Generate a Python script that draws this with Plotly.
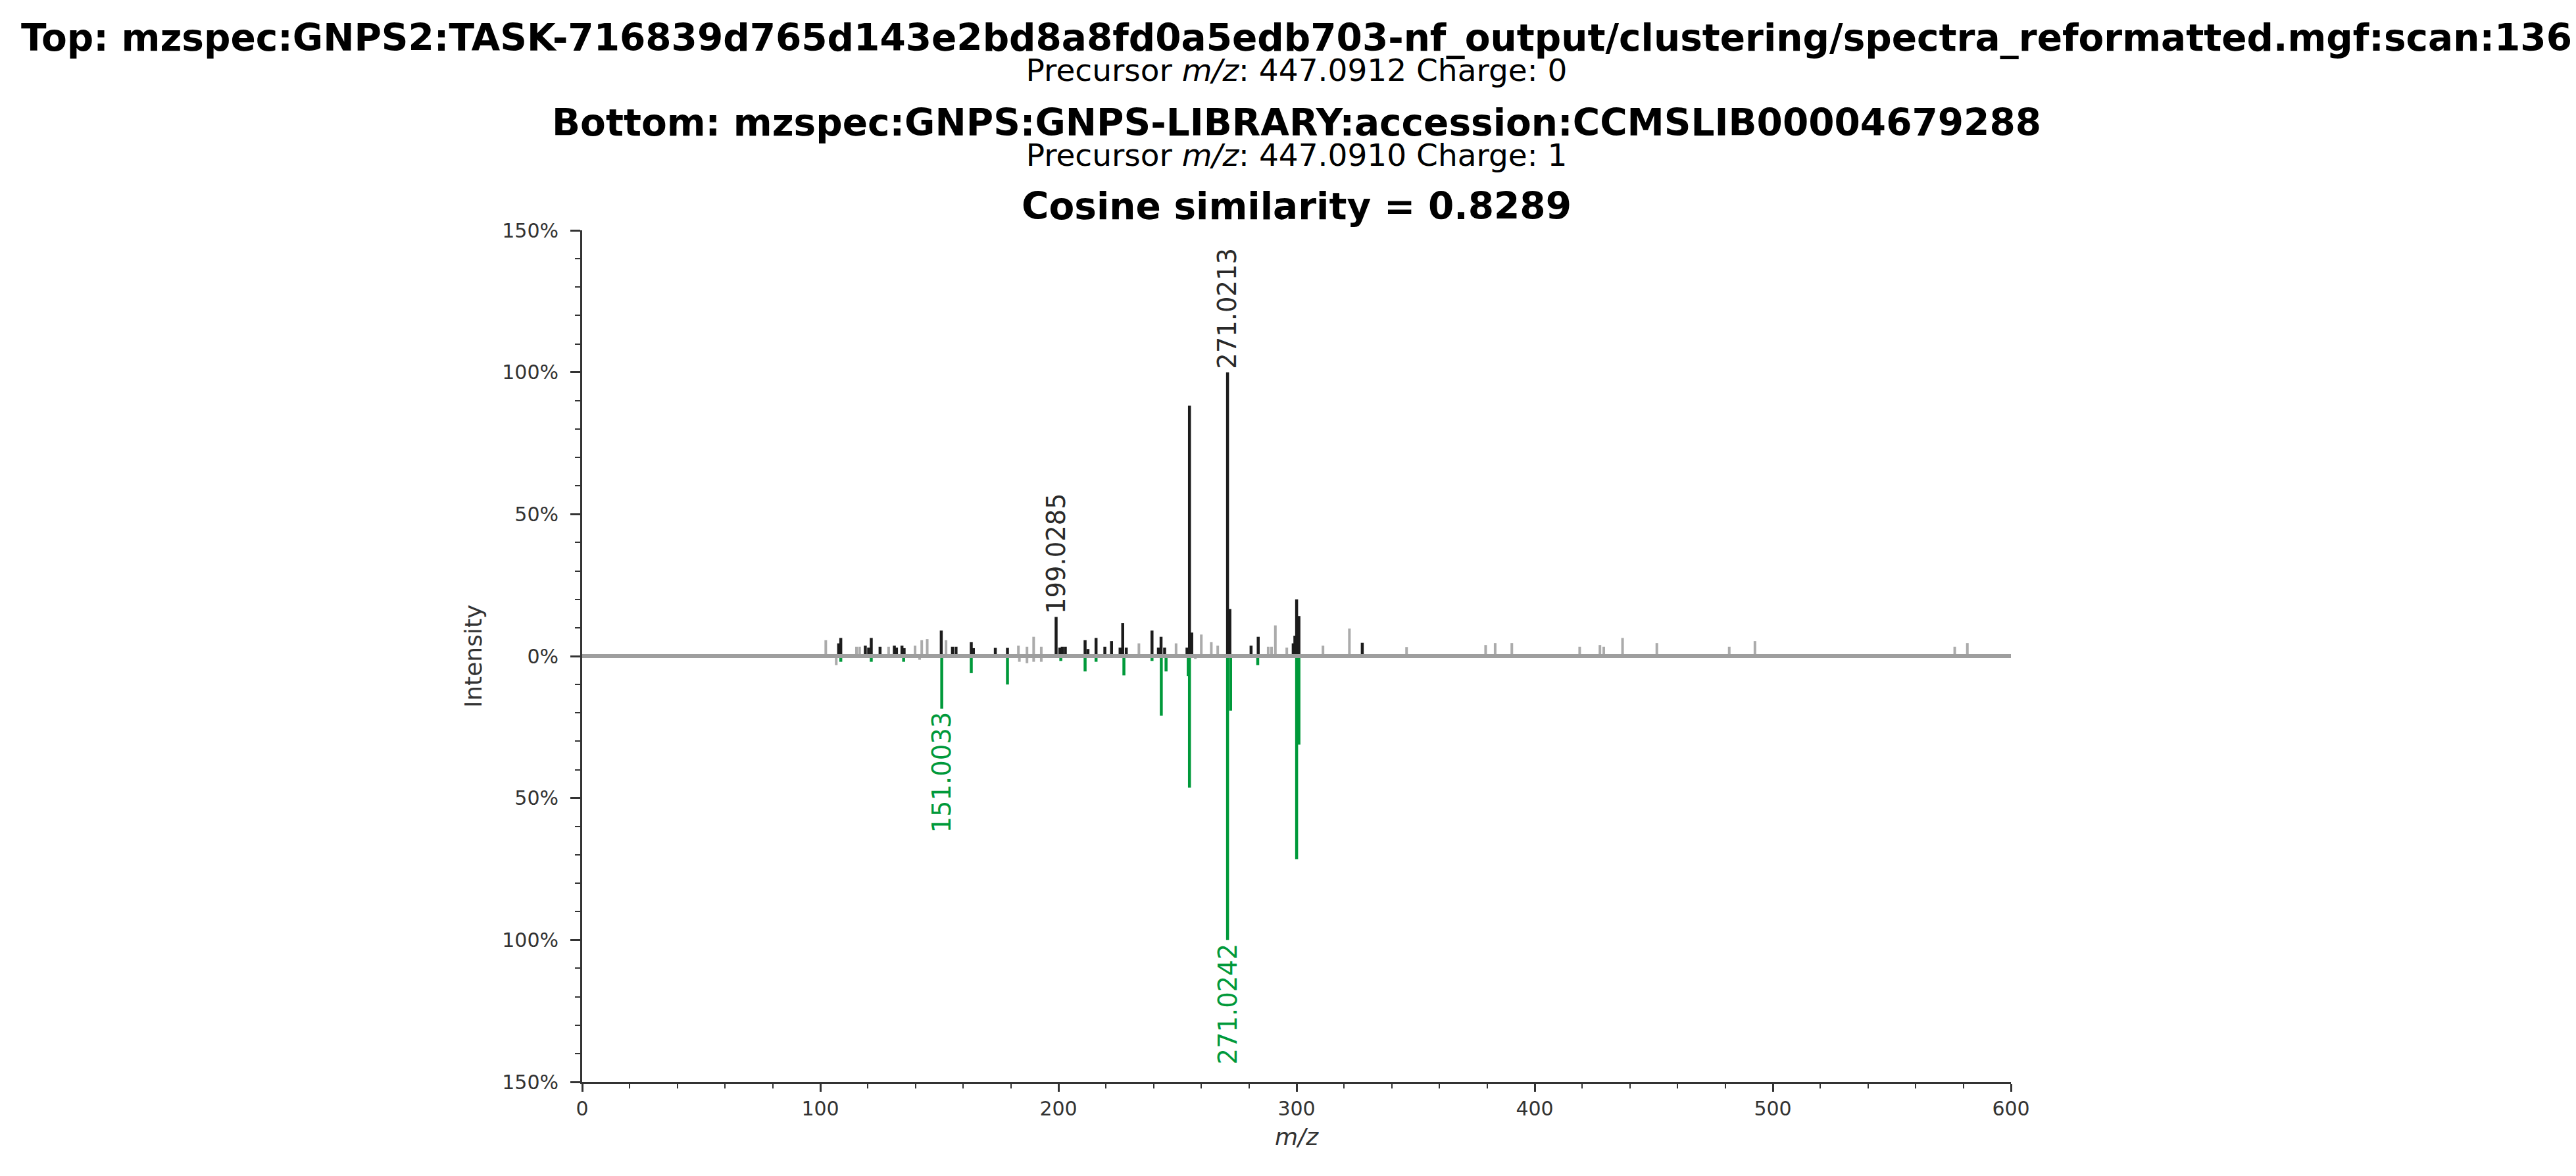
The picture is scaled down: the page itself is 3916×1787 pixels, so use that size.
import plotly.graph_objects as go

# ---------------- data ----------------
top_title = "Top: mzspec:GNPS2:TASK-716839d765d143e2bd8a8fd0a5edb703-nf_output/clustering/spectra_reformatted.mgf:scan:136"
top_sub = "Precursor <i>m/z</i>: 447.0912 Charge: 0"
bot_title = "Bottom: mzspec:GNPS:GNPS-LIBRARY:accession:CCMSLIB00004679288"
bot_sub = "Precursor <i>m/z</i>: 447.0910 Charge: 1"
cos_title = "Cosine similarity = 0.8289"

top_mz_matched = [107.7, 108.6, 118.9, 120.3, 121.4, 125.1, 131.1, 132.0, 134.3, 135.2,
                  150.8, 155.5, 157.0, 163.4, 164.3, 173.5, 178.6, 199.0285, 200.6, 201.6,
                  202.9, 211.2, 212.4, 215.8, 219.5, 222.3, 225.9, 227.0, 228.5, 239.3,
                  242.0, 243.1, 244.6, 254.0, 255.03, 256.0, 271.0213, 272.0, 280.9, 283.9,
                  298.6, 299.3, 300.03, 301.0, 327.6]
top_int_matched = [4.5, 6.4, 3.7, 3.0, 6.4, 3.3, 3.7, 3.0, 3.7, 2.8,
                   9.0, 3.3, 3.3, 4.9, 2.8, 2.9, 2.9, 13.8, 3.0, 3.3,
                   3.3, 5.6, 2.5, 6.4, 3.3, 5.3, 3.0, 11.6, 3.0, 9.0,
                   3.0, 6.8, 3.0, 3.0, 88.2, 8.3, 100.0, 16.6, 3.7, 6.8,
                   4.5, 7.2, 20.0, 14.1, 4.7]

top_mz_unmatched = [102.3, 115.2, 116.5, 128.7, 139.8, 142.6, 144.9, 152.8, 183.2, 186.8,
                    189.6, 192.8, 233.8, 249.4, 260.0, 264.2, 266.9, 288.1, 289.5, 291.1,
                    295.9, 311.1, 322.2, 346.2, 379.4, 383.4, 390.4, 418.9, 427.4, 429.0,
                    436.9, 451.3, 481.7, 492.5, 576.4, 581.7]
top_int_unmatched = [5.6, 3.3, 3.3, 3.3, 3.7, 5.6, 6.0, 5.6, 3.7, 3.3,
                     6.8, 3.3, 4.5, 4.5, 7.6, 4.9, 3.7, 3.3, 3.3, 10.8,
                     3.0, 3.7, 9.7, 3.2, 3.9, 4.6, 4.6, 3.3, 3.9, 3.3,
                     6.4, 4.6, 3.3, 5.3, 3.3, 4.6]

bot_mz_matched = [108.6, 121.4, 135.0, 151.0033, 163.4, 178.6, 201.0, 211.2, 215.8, 227.5,
                  239.3, 243.2, 245.2, 254.5, 255.03, 271.0242, 272.3, 283.7, 300.03, 301.0]
bot_int_matched = [2.0, 2.0, 2.0, 18.5, 6.0, 10.0, 1.7, 5.4, 2.0, 6.8,
                   1.7, 21.0, 5.4, 7.0, 46.3, 100.0, 19.2, 3.2, 71.5, 31.2]

bot_mz_unmatched = [106.7, 141.7, 183.6, 186.8, 189.6, 192.8, 257.5]
bot_int_unmatched = [3.2, 1.3, 2.0, 2.5, 2.0, 2.0, 1.0]

top_label_mz = [199.0285, 271.0213]
top_label_int = [13.8, 100.0]
bot_label_mz = [151.0033, 271.0242]
bot_label_int = [18.5, 100.0]

y_tickvals = [-150, -100, -50, 0, 50, 100, 150]
y_ticktext = ["150%", "100%", "50%", "0%", "50%", "100%", "150%"]
x_tickvals = [0, 100, 200, 300, 400, 500, 600]

# ---------------- styling ----------------
FONT = "DejaVu Sans"
BLACK = "#1c1c1c"
GRAY = "#ababab"
GREEN = "#00993a"
AXIS = "#333333"

W, H = 3916, 1787
L, R, T, B = 877, 3049, 342, 1636  # plot area in pixels


def sticks(mz, inten, sign=1):
    xs, ys = [], []
    for m, i in zip(mz, inten):
        xs += [m, m, None]
        ys += [0, sign * i, None]
    return xs, ys


fig = go.Figure()
for mz, it, sign, col, lw in [
    (top_mz_unmatched, top_int_unmatched, 1, GRAY, 4),
    (bot_mz_unmatched, bot_int_unmatched, -1, GRAY, 4),
    (top_mz_matched, top_int_matched, 1, BLACK, 4.5),
    (bot_mz_matched, bot_int_matched, -1, GREEN, 4.5),
]:
    xs, ys = sticks(mz, it, sign)
    fig.add_trace(go.Scatter(x=xs, y=ys, mode="lines",
                             line=dict(color=col, width=lw),
                             hoverinfo="skip", showlegend=False))

# zero line on top
fig.add_shape(type="line", xref="paper", x0=0, x1=1, yref="y", y0=0, y1=0,
              line=dict(color="#9e9e9e", width=6), layer="above")

# peak labels
for m, i in zip(top_label_mz, top_label_int):
    fig.add_annotation(x=m, y=i, xref="x", yref="y", text=f"{m:.4f}", showarrow=False,
                       textangle=-90, yanchor="bottom", xanchor="center", yshift=3,
                       font=dict(family=FONT, size=38.5, color="#2a2a2a"))
for m, i in zip(bot_label_mz, bot_label_int):
    fig.add_annotation(x=m, y=-i, xref="x", yref="y", text=f"{m:.4f}", showarrow=False,
                       textangle=-90, yanchor="top", xanchor="center", yshift=-3,
                       font=dict(family=FONT, size=38.5, color=GREEN))


def py(pix):
    return (B - pix) / (B - T)


# title blocks: bold header line + smaller precursor line in one text block
for head, sub, ypix in [(top_title, top_sub, 71), (bot_title, bot_sub, 200)]:
    fig.add_annotation(
        x=0.5, y=py(ypix), xref="paper", yref="paper", showarrow=False,
        xanchor="center", yanchor="middle", align="center",
        text=(f"<span style='font-size:56.5px'><b>{head}</b></span><br>"
              f"<span style='font-size:47px'>{sub}</span>"),
        font=dict(family=FONT, size=35.5, color="#000000"))

fig.add_annotation(x=0.5, y=py(306), xref="paper", yref="paper", showarrow=False,
                   xanchor="center", yanchor="middle", text=f"<b>{cos_title}</b>",
                   font=dict(family=FONT, size=56.5, color="#000000"))

fig.update_layout(
    width=W, height=H,
    margin=dict(l=L, r=W - R, t=T, b=H - B, pad=0),
    paper_bgcolor="white", plot_bgcolor="white",
    font=dict(family=FONT, color=AXIS),
    showlegend=False,
)
fig.update_xaxes(
    range=[0, 600], tickmode="array", tickvals=x_tickvals,
    ticks="outside", ticklen=12, tickwidth=3, tickcolor=AXIS,
    showline=True, linecolor=AXIS, linewidth=3, showgrid=False, zeroline=False,
    tickfont=dict(family=FONT, size=30, color=AXIS),
    minor=dict(tickmode="linear", tick0=0, dtick=20, ticks="outside", ticklen=7,
               tickwidth=2, tickcolor=AXIS, showgrid=False),
    title=dict(text="<i>m/z</i>", font=dict(family=FONT, size=36, color=AXIS), standoff=14),
)
fig.update_yaxes(
    range=[-150, 150], tickmode="array", tickvals=y_tickvals, ticktext=y_ticktext,
    ticks="outside", ticklen=15, tickwidth=3, tickcolor=AXIS,
    showline=True, linecolor=AXIS, linewidth=3, showgrid=False, zeroline=False,
    tickfont=dict(family=FONT, size=30, color=AXIS), ticklabelstandoff=12,
    minor=dict(tickmode="linear", tick0=0, dtick=10, ticks="outside", ticklen=8,
               tickwidth=2, tickcolor=AXIS, showgrid=False),
    title=dict(text="Intensity", font=dict(family=FONT, size=36, color=AXIS), standoff=20),
)

fig.write_html("out.html")
